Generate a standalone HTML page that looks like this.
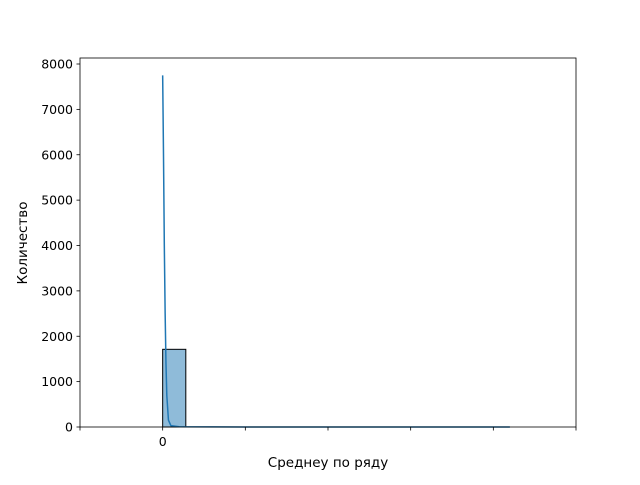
<!DOCTYPE html>
<html><head><meta charset="utf-8"><style>
body{margin:0;background:#fff;}
text{font-family:"DejaVu Sans","Liberation Sans",sans-serif;font-size:12.5px;fill:#000;}
.title{font-size:13.5px;}
</style></head><body>
<svg id="chart" width="640" height="480">
<rect x="0" y="0" width="640" height="480" fill="#fff"/>
<g id="plot"></g>
<text class="title" x="328" y="467" text-anchor="middle">Среднеу по ряду</text>
<text class="title" transform="translate(27,243) rotate(-90)" text-anchor="middle">Количество</text>
</svg>
<script>
const binEdges=[0,0.28];
const binCounts=[1712];
const kdeX=[0,0.005,0.01,0.015,0.02,0.03,0.04,0.05,0.07,0.1,0.2,1,2,3,4.2];
const kdeY=[7750,6900,6000,5000,4000,2500,1400,700,150,30,5,1,1,1,0];
const yTicks=[0,1000,2000,3000,4000,5000,6000,7000,8000];
const xTicks=[-1,0,1,2,3,4,5];
const xTickLabels=["","0","","","","",""];
const L=80,R=576,T=58,B=427;
const sx=v=>L+(v-(-1))/(5-(-1))*(R-L);
const sy=v=>B-v/8000*(427-64);
const g=document.getElementById('plot');
const NS='http://www.w3.org/2000/svg';
function mk(t,a){const e=document.createElementNS(NS,t);for(const k in a)e.setAttribute(k,a[k]);g.appendChild(e);return e;}
binCounts.forEach((c,i)=>{
 const r=mk('rect',{x:sx(binEdges[i]),y:sy(c),width:sx(binEdges[i+1])-sx(binEdges[i]),height:B-sy(c),fill:'rgba(31,119,180,0.5)',stroke:'#000','stroke-width':1});
 
 
});
const p=mk('path',{d:kdeX.map((x,i)=>(i?'L':'M')+sx(x)+','+sy(kdeY[i])).join(''),fill:'none',stroke:'#1f77b4','stroke-width':1.5});


const fr=mk('rect',{x:L,y:T,width:R-L,height:B-T,fill:'none',stroke:'#000','stroke-width':0.8});


yTicks.forEach(v=>{
 mk('line',{x1:L-3.5,x2:L,y1:sy(v),y2:sy(v),stroke:'#000','stroke-width':0.8});
 const t=mk('text',{x:L-7,y:sy(v)+4.5,'text-anchor':'end'});t.textContent=v;
 
 
});
xTicks.forEach((v,i)=>{
 mk('line',{x1:sx(v),x2:sx(v),y1:B,y2:B+3.5,stroke:'#000','stroke-width':0.8});
 if(xTickLabels[i]){const t=mk('text',{x:sx(v),y:B+19,'text-anchor':'middle'});t.textContent=xTickLabels[i];
 
 }
});
</script>
</body></html>
